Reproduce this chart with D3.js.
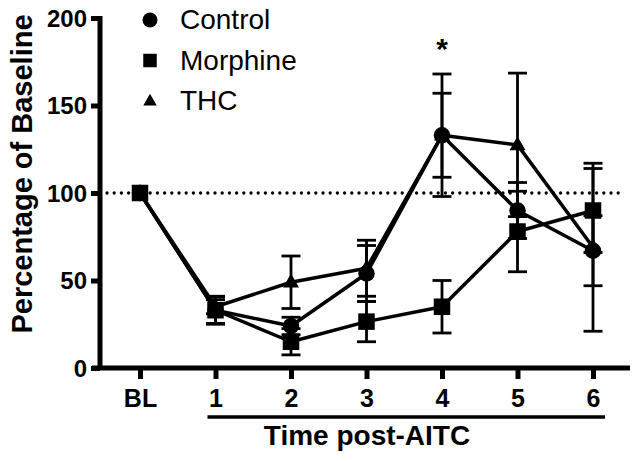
<!DOCTYPE html>
<html>
<head>
<meta charset="utf-8">
<script src="https://cdn.jsdelivr.net/npm/d3@7"></script>
<style>
  html, body { margin: 0; padding: 0; background: #fff; }
  svg { display: block; font-family: "Liberation Sans", Arial, sans-serif; }
</style>
</head>
<body>
<svg id="chart" width="639" height="461"></svg>
<script>
// ---- data ----
const categories = ["BL", "1", "2", "3", "4", "5", "6"];
const seriesNames = ["Control", "Morphine", "THC"];
const controlValues  = [100, 33, 24, 54, 133, 90, 67];
const controlErrors  = [0, 7.5, 5, 16, 35, 16, 20];
const morphineValues = [100, 33, 15, 26.5, 35, 78, 90];
const morphineErrors = [0, 8, 7.5, 11.5, 15, 23, 24];
const thcValues      = [100, 35, 49, 57, 133, 127.5, 69];
const thcErrors      = [0, 4, 15, 16, 24, 41, 48];
const yTicks = [0, 50, 100, 150, 200];
const baselineValue = 100;
const significance = [{ category: "4", label: "*" }];
const yLabel = "Percentage of Baseline";
const xLabel = "Time post-AITC";
const bracketFrom = "1", bracketTo = "6";

// ---- setup ----
const svg = d3.select("#chart");
const x = d3.scalePoint().domain(categories).range([140, 593]);
const y = d3.scaleLinear().domain([0, 200]).range([368, 18]);

const series = [
  { name: "THC", values: thcValues, errors: thcErrors, shape: "triangle" },
  { name: "Control", values: controlValues, errors: controlErrors, shape: "circle" },
  { name: "Morphine", values: morphineValues, errors: morphineErrors, shape: "square" }
];

function drawMarker(g, shape, cx, cy, s) {
  if (shape === "circle") {
    g.append("circle").attr("cx", cx).attr("cy", cy).attr("r", s / 2).attr("fill", "#000");
  } else if (shape === "square") {
    g.append("rect").attr("x", cx - s / 2).attr("y", cy - s / 2).attr("width", s).attr("height", s).attr("fill", "#000");
  } else {
    const h = s * 0.87;
    g.append("path")
      .attr("d", `M${cx},${cy - h * 0.62}L${cx + s / 2},${cy + h * 0.38}L${cx - s / 2},${cy + h * 0.38}Z`)
      .attr("fill", "#000");
  }
}

// ---- baseline dotted line ----
svg.append("line")
  .attr("x1", 107).attr("x2", 624)
  .attr("y1", y(baselineValue)).attr("y2", y(baselineValue))
  .attr("stroke", "#000").attr("stroke-width", 3.3)
  .attr("stroke-linecap", "round").attr("stroke-dasharray", "0,7.2");

// ---- error bars ----
const eg = svg.append("g");
series.forEach(s => {
  categories.forEach((c, i) => {
    const e = s.errors[i];
    if (!e) return;
    const cx = x(c), top = y(s.values[i] + e), bot = y(s.values[i] - e);
    eg.append("line").attr("x1", cx).attr("x2", cx).attr("y1", top).attr("y2", bot)
      .attr("stroke", "#000").attr("stroke-width", 2.8);
    [top, bot].forEach(yy => {
      eg.append("line").attr("x1", cx - 9.5).attr("x2", cx + 9.5).attr("y1", yy).attr("y2", yy)
        .attr("stroke", "#000").attr("stroke-width", 2.8);
    });
  });
});

// ---- lines ----
const line = d3.line().x((d, i) => x(categories[i])).y(d => y(d));
series.forEach(s => {
  svg.append("path").attr("d", line(s.values))
    .attr("fill", "none").attr("stroke", "#000").attr("stroke-width", 3.5)
    .attr("stroke-linejoin", "round");
});

// ---- markers ----
series.forEach(s => {
  const g = svg.append("g");
  categories.forEach((c, i) => {
    drawMarker(g, s.shape, x(c), y(s.values[i]), s.shape === "triangle" ? 16 : 16.5);
  });
});

// ---- axes ----
const yAxis = d3.axisLeft(y).tickValues(yTicks).tickSize(9).tickPadding(4);
const yg = svg.append("g").attr("transform", "translate(100,0)").call(yAxis);
yg.select(".domain").attr("d", "M0,16V370").attr("stroke", "#000").attr("stroke-width", 5);
yg.selectAll(".tick line").attr("stroke", "#000").attr("stroke-width", 5);
yg.selectAll(".tick text").attr("font-size", 24).attr("font-weight", "bold")
  .attr("fill", "#000").attr("font-family", "Liberation Sans, Arial, sans-serif").attr("dy", "0.34em");

const xAxis = d3.axisBottom(x).tickSize(11).tickPadding(10);
const xg = svg.append("g").attr("transform", "translate(0,368)").call(xAxis);
xg.select(".domain").attr("d", "M92,0H630").attr("stroke", "#000").attr("stroke-width", 5);
xg.selectAll(".tick line").attr("stroke", "#000").attr("stroke-width", 5);
xg.selectAll(".tick text").attr("font-size", 25).attr("font-weight", "bold")
  .attr("fill", "#000").attr("font-family", "Liberation Sans, Arial, sans-serif");

// bracket under 1..6
svg.append("line").attr("x1", x(bracketFrom) - 8).attr("x2", x(bracketTo) + 12)
  .attr("y1", 417).attr("y2", 417).attr("stroke", "#000").attr("stroke-width", 3.5);

// axis titles (centred on the x-axis line)
svg.append("text").attr("x", 367).attr("y", 445)
  .attr("text-anchor", "middle").attr("font-size", 28).attr("font-weight", "bold").text(xLabel);
svg.append("text").attr("transform", "translate(32,174) rotate(-90)")
  .attr("text-anchor", "middle").attr("font-size", 29).attr("font-weight", "bold").text(yLabel);

// significance
significance.forEach(sg => {
  svg.append("text").attr("x", x(sg.category)).attr("y", 59)
    .attr("text-anchor", "middle").attr("font-size", 30).attr("font-weight", "bold").text(sg.label);
});

// ---- legend ----
const legendShapes = { Control: "circle", Morphine: "square", THC: "triangle" };
seriesNames.forEach((n, i) => {
  const cy = 20 + i * 40.5;
  const g = svg.append("g");
  drawMarker(g, legendShapes[n], 150, cy, legendShapes[n] === "circle" ? 15 : 13.5);
  g.append("text").attr("x", 180).attr("y", cy + 9).attr("font-size", 28).attr("fill", "#000").text(n);
});
</script>
</body>
</html>
